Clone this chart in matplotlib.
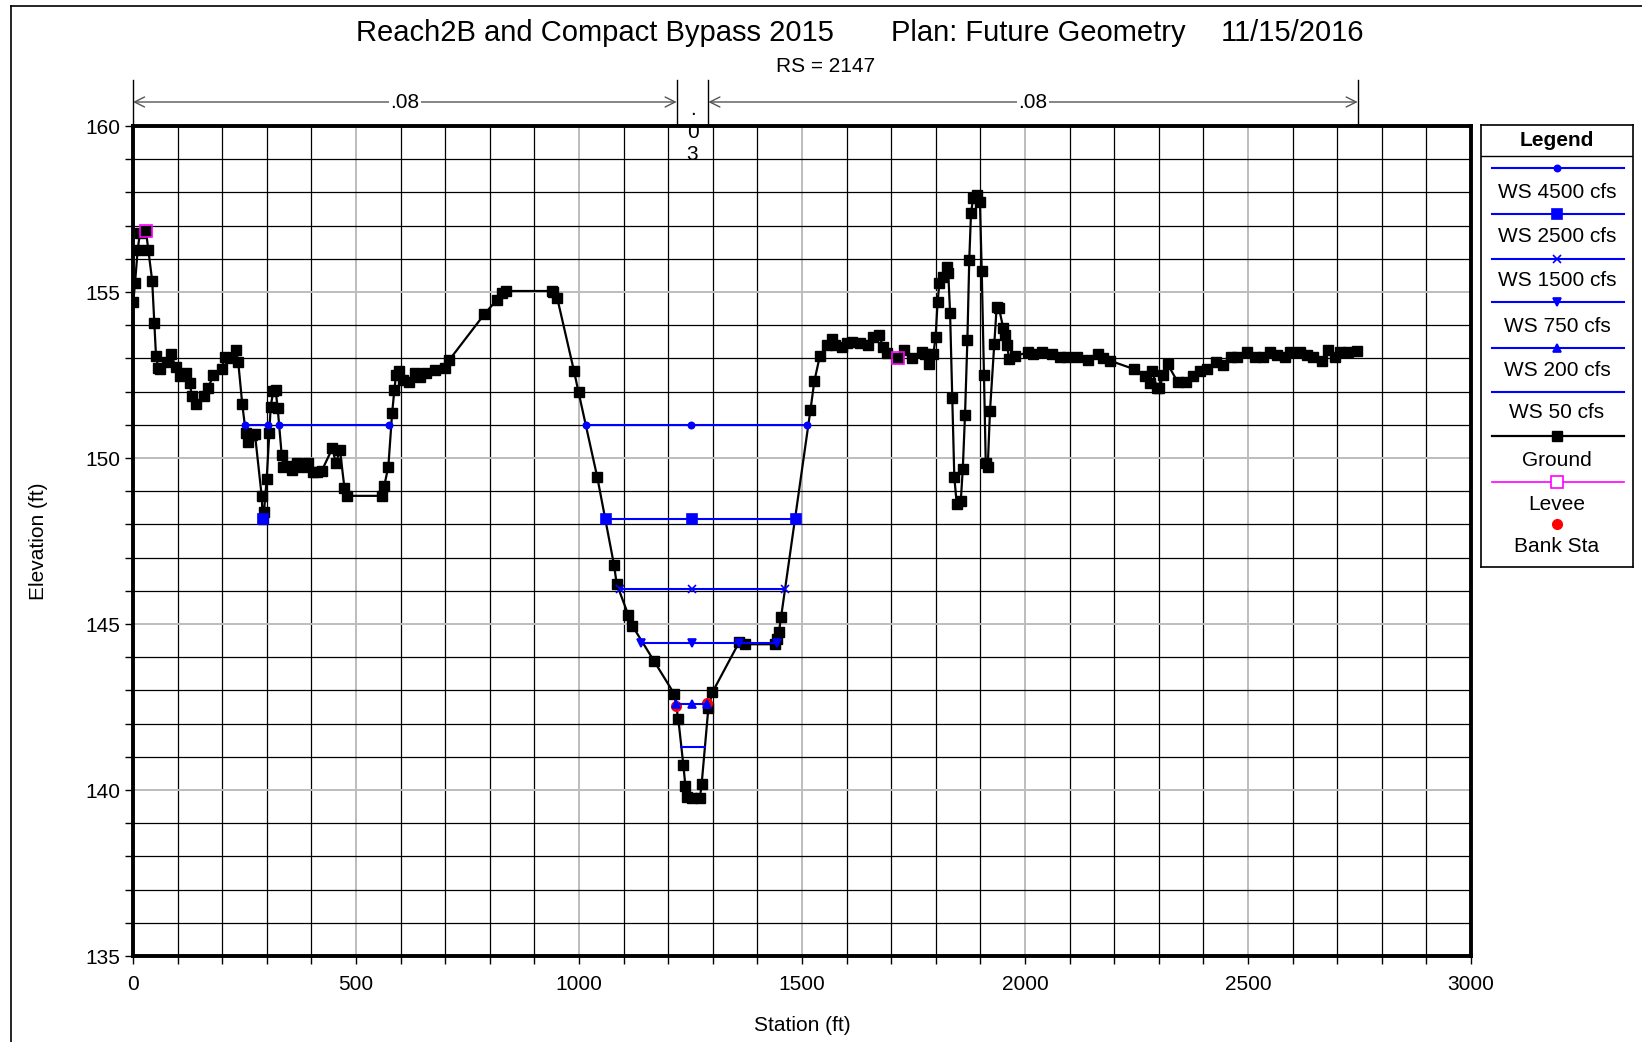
import numpy as np
import matplotlib
matplotlib.use("Agg")
import matplotlib.pyplot as plt
from matplotlib.lines import Line2D
from matplotlib.transforms import blended_transform_factory

plt.rcParams['font.family'] = ['Liberation Sans', 'DejaVu Sans']

# ground profile (station ft, elevation ft)
ground_sta = [0.7, 4.5, 10.5, 15.7, 29, 34.3, 43, 47.8, 51.6, 56.8, 60.5, 75.5, 85, 95.6,
              105, 118, 127.8, 131.4, 141, 160, 169, 180, 199, 206, 217.5, 231, 236, 245,
              253, 258.5, 266, 273.5, 288.5, 291, 293.7, 299.7, 305.6, 308.7, 314.6, 319.7,
              324.4, 333.4, 337, 347, 356, 367, 380, 393, 404, 412, 423, 447, 455, 464,
              474, 479, 559, 563.5, 572.5, 581, 586, 589.7, 597, 606, 619.5, 632, 643.5,
              658, 677, 699.6, 709, 787.7, 815.5, 826.7, 835.6, 938.6, 942, 951, 988.8,
              999, 1041, 1078.5, 1084.5, 1110.5, 1119.5, 1168, 1213.7, 1222.7, 1234,
              1238.5, 1241.5, 1252.6, 1271, 1275, 1290, 1299, 1359, 1372, 1439.5, 1444.6,
              1448.4, 1453, 1519, 1527.6, 1540, 1555.5, 1566.5, 1574, 1589, 1600, 1611,
              1630, 1648.7, 1660, 1672.6, 1682, 1691, 1714.5, 1728.7, 1746, 1768, 1776,
              1785.5, 1794.4, 1799.5, 1804, 1808, 1817, 1824.5, 1828, 1832, 1837, 1841.5,
              1847, 1856, 1860.5, 1865.5, 1870.8, 1875, 1879, 1884, 1893, 1899, 1903,
              1908, 1912, 1916.5, 1921.5, 1931, 1936.5, 1941.7, 1951, 1955, 1960, 1964,
              1977.6, 2006, 2018.6, 2039, 2061, 2078.5, 2093.5, 2116, 2140.5, 2164.5,
              2175.7, 2190.6, 2244, 2269, 2280, 2285, 2295.5, 2301, 2310, 2320, 2342,
              2361, 2377, 2392, 2407, 2428, 2445, 2463, 2474.5, 2497, 2516, 2534, 2549,
              2564, 2583, 2594, 2617, 2632, 2646, 2665, 2680, 2695, 2706, 2725, 2744]
ground_elev = [154.71, 155.26, 156.27, 156.79, 156.84, 156.27, 155.34, 154.08, 153.07, 152.70,
               152.67, 152.90, 153.13, 152.75, 152.48, 152.55, 152.25, 151.88, 151.62, 151.88,
               152.12, 152.50, 152.68, 153.05, 153.00, 153.25, 152.88, 151.62, 150.74, 150.49,
               150.69, 150.71, 148.86, 148.15, 148.38, 149.36, 150.74, 151.55, 152.02, 152.05,
               151.50, 150.09, 149.74, 149.76, 149.64, 149.84, 149.74, 149.86, 149.59, 149.57,
               149.61, 150.29, 149.84, 150.24, 149.11, 148.86, 148.86, 149.17, 149.74, 151.35,
               152.05, 152.50, 152.63, 152.35, 152.30, 152.55, 152.45, 152.57, 152.65, 152.70,
               152.95, 154.33, 154.76, 154.96, 155.03, 155.03, 155.01, 154.83, 152.62, 151.98,
               149.42, 146.78, 146.21, 145.27, 144.95, 143.89, 142.89, 142.13, 140.75, 140.12,
               139.80, 139.75, 139.75, 140.18, 142.46, 142.94, 144.45, 144.39, 144.39, 144.54,
               144.77, 145.20, 151.45, 152.31, 153.07, 153.40, 153.57, 153.40, 153.35, 153.47,
               153.50, 153.45, 153.40, 153.63, 153.70, 153.35, 153.15, 153.00, 153.25, 153.00,
               153.20, 153.13, 152.82, 153.13, 153.63, 154.70, 155.26, 155.46, 155.76, 155.56,
               154.38, 151.80, 149.42, 148.61, 148.71, 149.67, 151.30, 153.55, 155.96, 157.39,
               157.84, 157.92, 157.70, 155.63, 152.50, 149.84, 149.74, 151.42, 153.43, 154.56,
               154.51, 153.93, 153.70, 153.40, 152.98, 153.07, 153.18, 153.12, 153.18, 153.12,
               153.05, 153.05, 153.05, 152.95, 153.12, 153.00, 152.93, 152.68, 152.48, 152.25,
               152.63, 152.12, 152.10, 152.50, 152.82, 152.30, 152.30, 152.47, 152.62, 152.68,
               152.90, 152.80, 153.03, 153.05, 153.20, 153.05, 153.03, 153.20, 153.10, 153.03,
               153.20, 153.20, 153.10, 153.03, 152.93, 153.25, 153.03, 153.20, 153.20, 153.23]

# water surfaces: elevation and wetted segments (stations)
ws_names = ["WS 4500 cfs", "WS 2500 cfs", "WS 1500 cfs", "WS 750 cfs", "WS 200 cfs", "WS 50 cfs"]
ws_elev = [151.0, 148.17, 146.05, 144.44, 142.58, 141.30]
ws_segments = [
    [[252, 303.6], [327.5, 575], [1015.5, 1252, 1511]],
    [[291], [1060, 1252.7, 1486]],
    [[1092, 1252.7, 1462]],
    [[1139, 1252.7, 1359, 1443]],
    [[1217, 1253, 1287]],
    [[1228, 1282.5]],
]
ws_markers = ['o', 's', 'x', 'v', '^', None]
ws_msize = [4.5, 6.5, 6, 6, 6, 0]

levee_sta = [29, 1714.5]
levee_elev = [156.84, 153.0]
bank_sta = [1217, 1287]
bank_elev = [142.53, 142.61]

# Manning's n regions
n_bounds = [0, 1219, 1290, 2746]
n_values = [".08", ".03", ".08"]

W, H = 1642, 1042
fig = plt.figure(figsize=(W / 100, H / 100), dpi=100)
ax = fig.add_axes([133 / W, 1 - 956 / H, (1471 - 133) / W, (956 - 126) / H])

ax.set_xlim(0, 3000)
ax.set_ylim(135, 160)
ax.set_xticks(np.arange(0, 3001, 500))
ax.set_xticks(np.arange(0, 3001, 100), minor=True)
ax.set_yticks(np.arange(135, 161, 5))
ax.set_yticks(np.arange(135, 161, 1), minor=True)
ax.grid(which='minor', color='black', lw=0.9)
ax.grid(which='major', color='#bdbdbd', lw=1.4)
ax.set_axisbelow(True)
ax.tick_params(which='both', direction='out', length=6, width=1, labelsize=15, color='black')
ax.tick_params(axis='y', pad=3)
ax.tick_params(axis='x', pad=8)
for s in ax.spines.values():
    s.set_linewidth(2.8)

# water surfaces
for name, el, segs, mk, ms in zip(ws_names, ws_elev, ws_segments, ws_markers, ws_msize):
    for seg in segs:
        ax.plot(seg, [el] * len(seg), color='#0000ff', lw=1.5, marker=mk, ms=ms,
                mew=1.2, zorder=4)

ax.plot(ground_sta, ground_elev, color='black', lw=1.6, marker='s', ms=6.5, zorder=3)
ax.plot(levee_sta, levee_elev, ls='none', marker='s', ms=8, mfc='none', mec='#ff00ff',
        mew=1.2, zorder=5)
ax.plot(bank_sta, bank_elev, ls='none', marker='o', ms=7, color='#ff0000', zorder=3.5)

ax.set_xlabel("Station (ft)", fontsize=15)
ax.set_ylabel("Elevation (ft)", fontsize=15)
ax.yaxis.set_label_coords((48 - 133) / 1338, 0.5)
ax.xaxis.set_label_coords(0.5, -(1016 - 956) / 830)

# Manning's n arrows above the plot
tr = blended_transform_factory(ax.transData, ax.transAxes)
y_top = (956 - 80) / 830
y_arr = (956 - 102) / 830
for b in n_bounds:
    ax.plot([b, b], [1.0, y_top], transform=tr, color='black', lw=1, clip_on=False)
for (a, b), lab in zip([(n_bounds[0], n_bounds[1]), (n_bounds[2], n_bounds[3])],
                       [n_values[0], n_values[2]]):
    ax.annotate("", xy=(a, y_arr), xytext=(b, y_arr), xycoords=tr, textcoords=tr,
                arrowprops=dict(arrowstyle='<->', color='#555555', lw=1,
                                shrinkA=0, shrinkB=0, mutation_scale=18))
    ax.text((a + b) / 2, y_arr, lab, transform=tr, ha='center', va='center', fontsize=15,
            bbox=dict(facecolor='white', edgecolor='none', pad=1))
mid = (n_bounds[1] + n_bounds[2]) / 2
for ch, yp in zip(n_values[1], [115, 138, 160]):
    ax.text(mid, (956 - yp) / 830, ch, transform=tr, ha='center', va='baseline',
            fontsize=15, zorder=6)

# titles
fig.text(356 / W, 1 - 41 / H, "Reach2B and Compact Bypass 2015", fontsize=21, va='baseline')
fig.text(891 / W, 1 - 41 / H, "Plan: Future Geometry", fontsize=21, va='baseline')
fig.text(1221 / W, 1 - 41 / H, "11/15/2016", fontsize=21, va='baseline')
fig.text(826 / W, 1 - 72 / H, "RS = 2147", fontsize=15, va='baseline', ha='center')

# figure border (top and left)
fig.add_artist(Line2D([11 / W, 1], [1 - 6 / H, 1 - 6 / H], color='black', lw=1.2))
fig.add_artist(Line2D([11 / W, 11 / W], [0, 1 - 6 / H], color='black', lw=1.2))

# legend box
lg = fig.add_axes([1481 / W, 1 - 567 / H, (1633 - 1481) / W, (567 - 125) / H])
lg.set_xlim(1481, 1633)
lg.set_ylim(567, 125)
lg.set_xticks([])
lg.set_yticks([])
for s in lg.spines.values():
    s.set_linewidth(1.2)
lg.text(1557, 140, "Legend", ha='center', va='center', fontsize=15, fontweight='bold')
lg.plot([1481, 1633], [156, 156], color='black', lw=1)
xs = [1492, 1557, 1624]
line_y = [168, 214, 259, 302, 348, 392]
label_y = [193, 237, 280, 327, 370, 413]
for name, mk, ms, ly, ty in zip(ws_names, ws_markers, ws_msize, line_y, label_y):
    lg.plot([xs[0], xs[2]], [ly, ly], color='#0000ff', lw=1.5)
    if mk:
        lg.plot([xs[1]], [ly], color='#0000ff', marker=mk, ms=ms, mew=1.2)
    lg.text(1557, ty, name, ha='center', va='center', fontsize=15)
lg.plot([xs[0], xs[2]], [436, 436], color='black', lw=1.6)
lg.plot([xs[1]], [436], color='black', marker='s', ms=6.5)
lg.text(1557, 460, "Ground", ha='center', va='center', fontsize=15)
lg.plot([xs[0], xs[2]], [482, 482], color='#ff00ff', lw=1.2)
lg.plot([xs[1]], [482], ls='none', marker='s', ms=8, mfc='white', mec='#ff00ff', mew=1.2)
lg.text(1557, 504, "Levee", ha='center', va='center', fontsize=15)
lg.plot([xs[1]], [524], ls='none', marker='o', ms=7, color='#ff0000')
lg.text(1557, 547, "Bank Sta", ha='center', va='center', fontsize=15)

fig.savefig("out.png", dpi=100)
